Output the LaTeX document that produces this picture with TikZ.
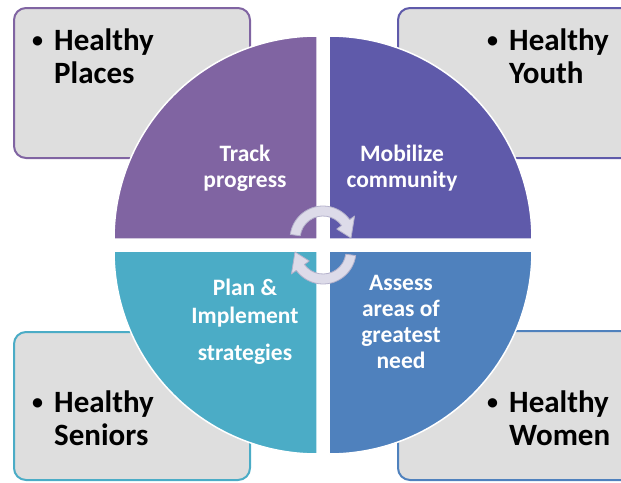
\documentclass[tikz,border=0pt]{standalone}
\usepackage{fontspec}
\setmainfont{Carlito}

\definecolor{trackpurple}{HTML}{8064A2}
\definecolor{mobilizeviolet}{HTML}{5F5AAA}
\definecolor{planteal}{HTML}{4BACC6}
\definecolor{assessblue}{HTML}{4F81BD}
\definecolor{boxgray}{HTML}{DEDEDE}
\definecolor{cyclefill}{HTML}{DDDBE9}
\definecolor{cycleedge}{HTML}{B4B1CB}

\tikzstyle{groupbox} = [rectangle, rounded corners=12pt, line width=2pt, fill=boxgray, anchor=north west, minimum width=236pt, minimum height=150pt]
\tikzstyle{grouptext} = [font=\fontsize{31}{33}\selectfont\bfseries, align=left, inner sep=0pt, anchor=base west]
\tikzstyle{quarter} = [draw=white, line width=1.5pt]
\tikzstyle{steptext} = [font=\fontsize{23.5}{26}\selectfont\bfseries, text=white, align=center, inner sep=0pt, anchor=base]
\tikzstyle{cyclearrow} = [fill=cyclefill, draw=cycleedge, line width=0.8pt, line join=round]

\newcommand{\bul}{\makebox[22pt][l]{\fontsize{22}{22}\selectfont\raisebox{2.5pt}{\textbullet}}}
\newcommand{\nobul}{\hspace*{22pt}}

\begin{document}
\begin{tikzpicture}[x=1pt, y=-1pt]
	\clip (0,0) rectangle (621,482);
	% Four groups in the corners
	\node [groupbox, draw=trackpurple] (places) at (13,7) {};
	\node [groupbox, draw=mobilizeviolet] (youth) at (397,7) {};
	\node [groupbox, draw=planteal, minimum height=148pt] (seniors) at (13,331) {};
	\node [groupbox, draw=assessblue, minimum height=149pt] (women) at (397,330) {};
	\node [grouptext] (placestext) at (32,83) {\bul Healthy\\\nobul Places};
	\node [grouptext] (youthtext) at (487,83) {\bul Healthy\\\nobul Youth};
	\node [grouptext] (seniorstext) at (32,445) {\bul Healthy\\\nobul Seniors};
	\node [grouptext] (womentext) at (487,445) {\bul Healthy\\\nobul Women};
	% Quarters of the circle
	\fill [trackpurple, quarter] (317,239) -- (114,239) arc[start angle=180, end angle=270, radius=203] -- cycle;
	\fill [mobilizeviolet, quarter] (329,239) -- (329,36) arc[start angle=270, end angle=360, radius=203] -- cycle;
	\fill [assessblue, quarter] (329,251) -- (532,251) arc[start angle=0, end angle=90, radius=203] -- cycle;
	\fill [planteal, quarter] (317,251) -- (317,454) arc[start angle=90, end angle=180, radius=203] -- cycle;
	\node [steptext] (track) at (245,187) {Track\\progress};
	\node [steptext] (mobilize) at (402,187) {Mobilize\\community};
	\node [steptext] (plan) at (245,360) {Plan \&\\[2pt]Implement\\[11pt]strategies};
	\node [steptext] (assess) at (401,368) {Assess\\areas of\\greatest\\need};
	% Cycle arrows in the middle
	\begin{scope}[shift={(323,239)}]
		\filldraw [cyclearrow] (188:33) arc[start angle=188, end angle=324, radius=33] -- (324:39) -- (358:28) -- (324:17) -- (324:23) arc[start angle=324, end angle=188, radius=23] -- cycle;
	\end{scope}
	\begin{scope}[shift={(323,251)}, rotate=180]
		\filldraw [cyclearrow] (188:33) arc[start angle=188, end angle=324, radius=33] -- (324:39) -- (358:28) -- (324:17) -- (324:23) arc[start angle=324, end angle=188, radius=23] -- cycle;
	\end{scope}
\end{tikzpicture}
\end{document}
